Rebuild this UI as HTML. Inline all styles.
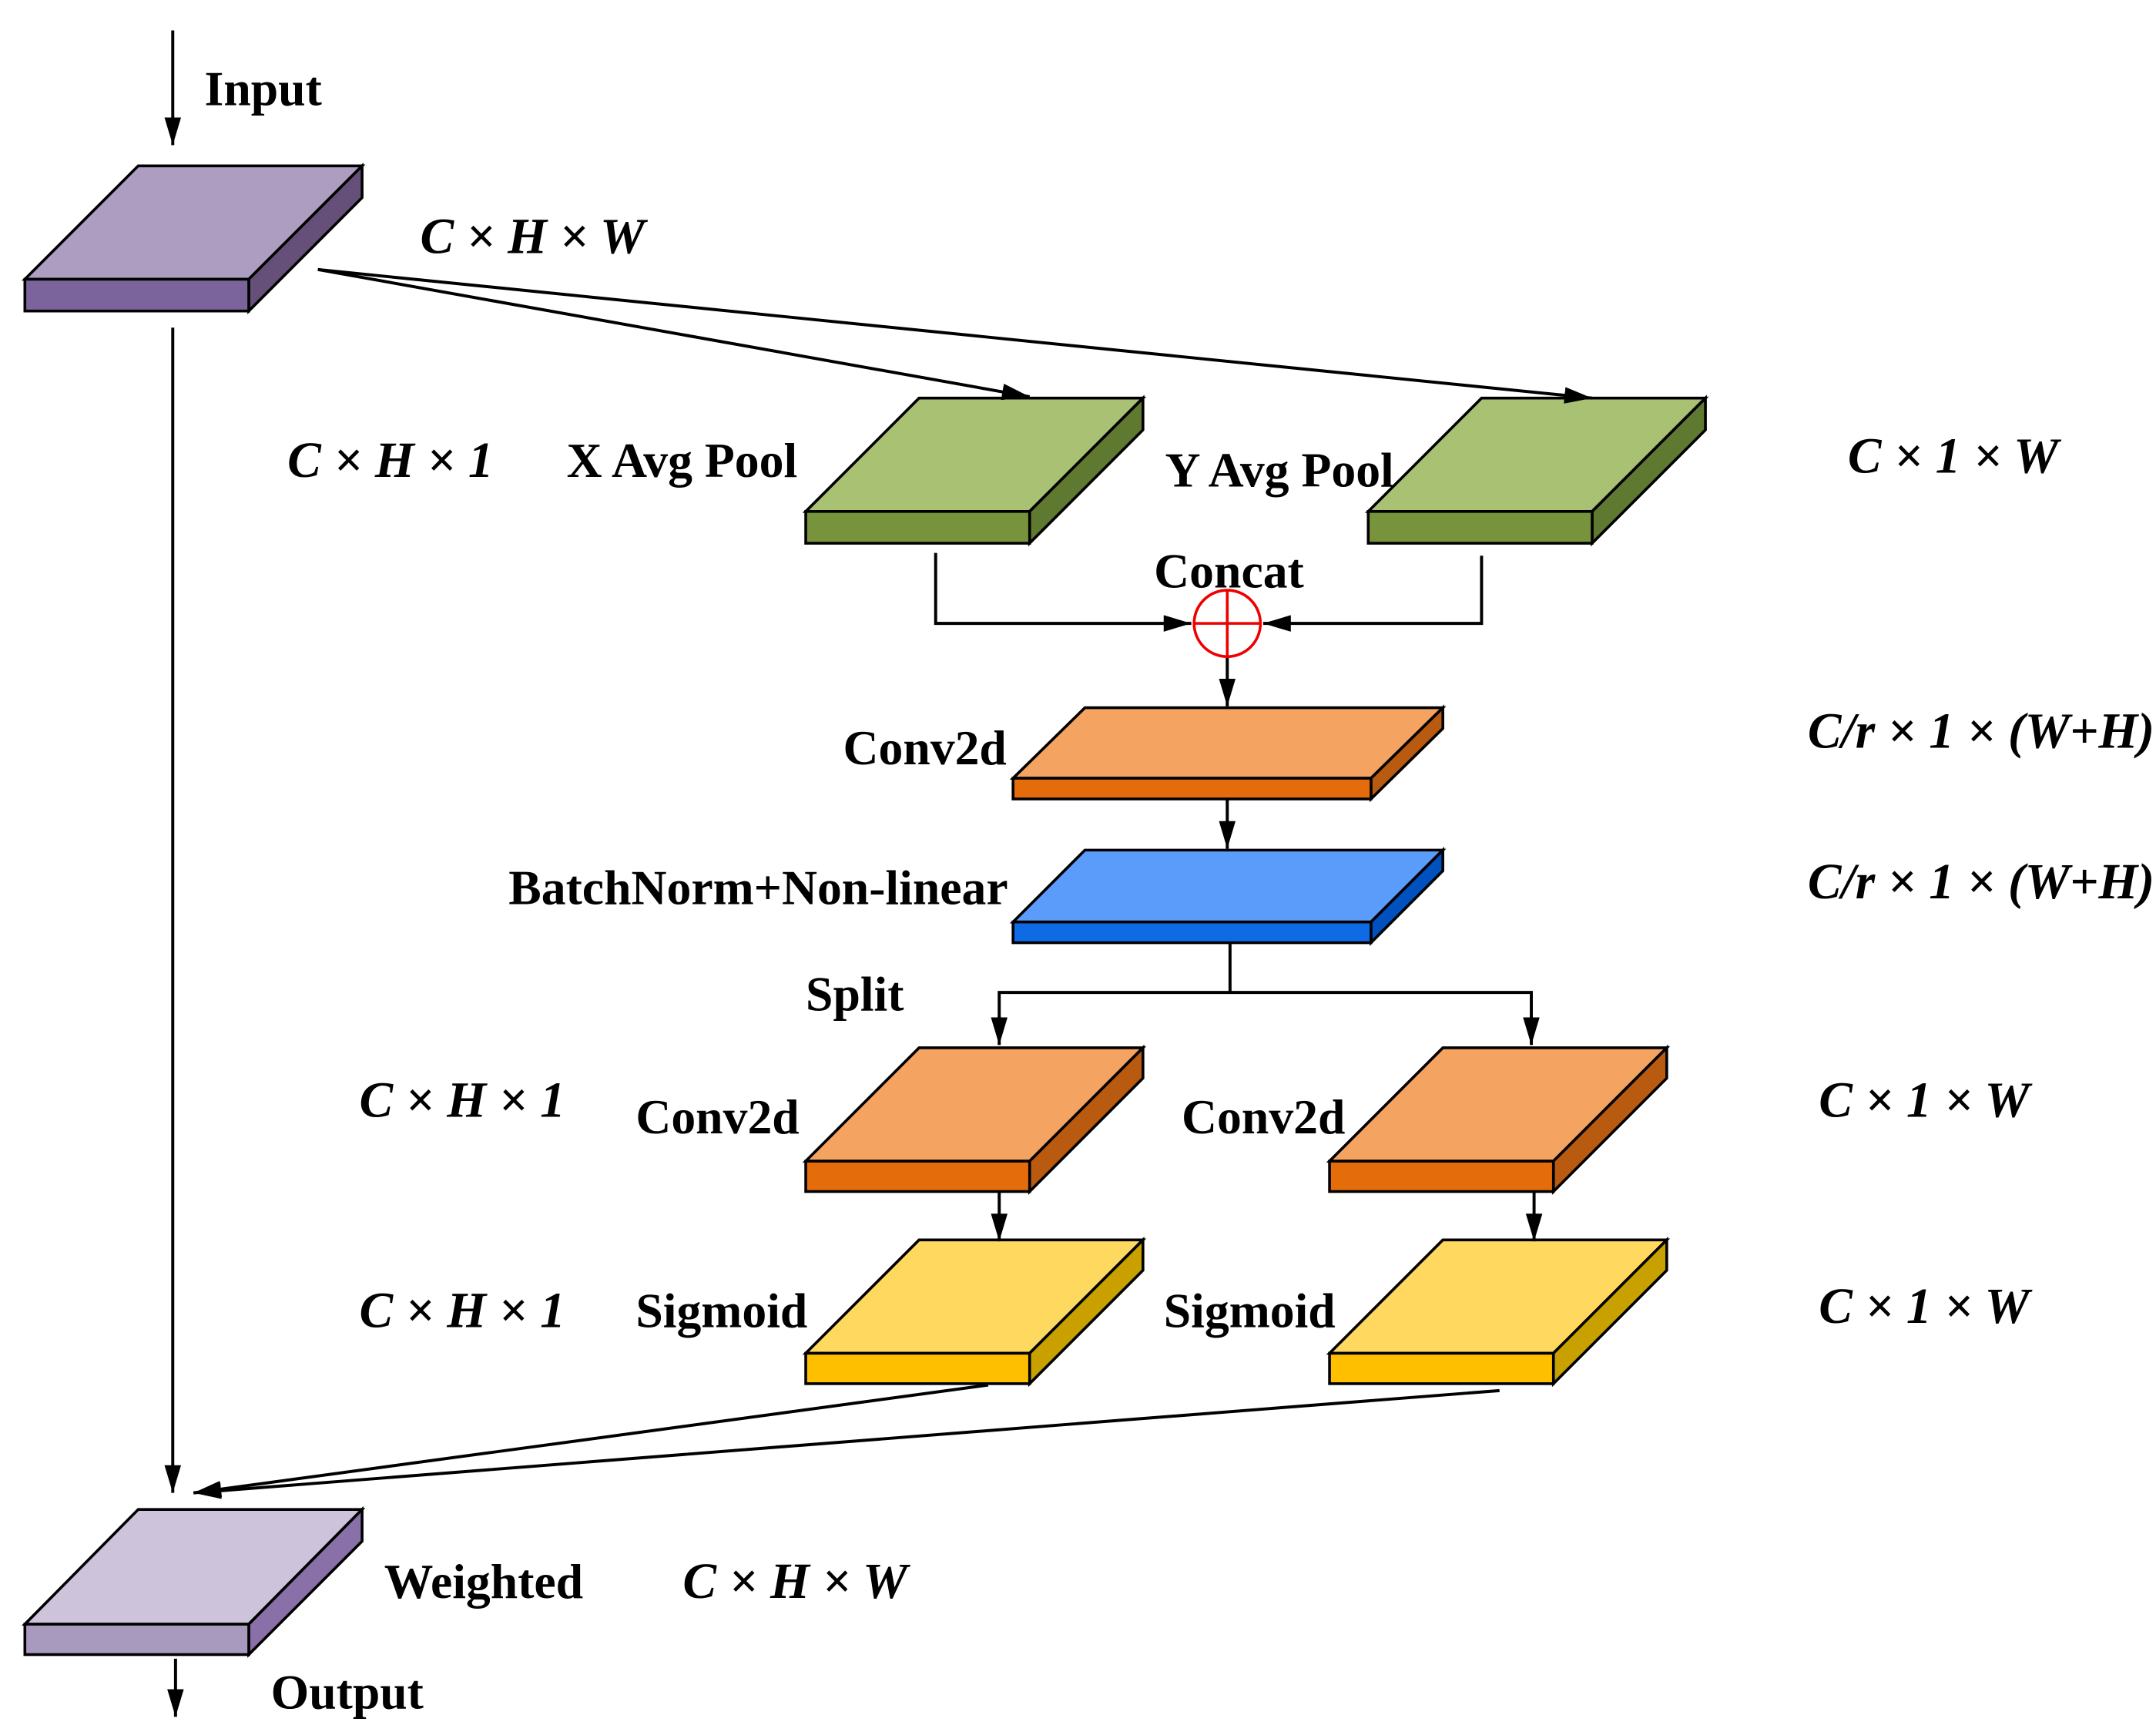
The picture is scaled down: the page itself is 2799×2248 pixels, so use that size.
<!DOCTYPE html>
<html><head><meta charset="utf-8"><style>
html,body{margin:0;padding:0;background:#fff;}
svg{display:block;}
text{font-family:"Liberation Serif",serif;font-size:35.5px;fill:#000;}
.b{font-weight:bold;}
.i{font-style:italic;font-weight:bold;font-size:36.5px;}
</style></head><body>
<svg width="2799" height="2248" viewBox="0 0 1560 1253" preserveAspectRatio="none" xmlns="http://www.w3.org/2000/svg">
<defs>
<marker id="A" markerWidth="20" markerHeight="12" refX="20" refY="6" orient="auto" markerUnits="userSpaceOnUse">
<path d="M0,0 L20,6 L0,12 Z" fill="#000"/></marker>
</defs>
<g stroke="#000" stroke-width="2" stroke-linejoin="miter">
<polygon points="18,202 100,120 262,120 180,202" fill="#ad9ec1"/>
<polygon points="180,202 262,120 262,143 180,225" fill="#645079"/>
<rect x="18" y="202" width="162" height="23" fill="#7b649b"/>
<polygon points="583,370 665,288 827,288 745,370" fill="#a9c173"/>
<polygon points="745,370 827,288 827,311 745,393" fill="#5f7a30"/>
<rect x="583" y="370" width="162" height="23" fill="#77933c"/>
<polygon points="990,370 1072,288 1234,288 1152,370" fill="#a9c173"/>
<polygon points="1152,370 1234,288 1234,311 1152,393" fill="#5f7a30"/>
<rect x="990" y="370" width="162" height="23" fill="#77933c"/>
<polygon points="733,563 785,512 1044,512 992,563" fill="#f4a460"/>
<polygon points="992,563 1044,512 1044,527 992,578" fill="#b85a10"/>
<rect x="733" y="563" width="259" height="15" fill="#e46c0a"/>
<polygon points="733,667 785,615 1044,615 992,667" fill="#5b9cfb"/>
<polygon points="992,667 1044,615 1044,630 992,682" fill="#0050c0"/>
<rect x="733" y="667" width="259" height="15" fill="#0f6ae6"/>
<polygon points="583,840 665,758 827,758 745,840" fill="#f4a460"/>
<polygon points="745,840 827,758 827,780 745,862" fill="#b85a10"/>
<rect x="583" y="840" width="162" height="22" fill="#e46c0a"/>
<polygon points="962,840 1044,758 1206,758 1124,840" fill="#f4a460"/>
<polygon points="1124,840 1206,758 1206,780 1124,862" fill="#b85a10"/>
<rect x="962" y="840" width="162" height="22" fill="#e46c0a"/>
<polygon points="583,979 665,897 827,897 745,979" fill="#fed85f"/>
<polygon points="745,979 827,897 827,919 745,1001" fill="#c8a000"/>
<rect x="583" y="979" width="162" height="22" fill="#fdbf00"/>
<polygon points="962,979 1044,897 1206,897 1124,979" fill="#fed85f"/>
<polygon points="1124,979 1206,897 1206,919 1124,1001" fill="#c8a000"/>
<rect x="962" y="979" width="162" height="22" fill="#fdbf00"/>
<polygon points="18,1175 100,1092 262,1092 180,1175" fill="#cdc3da"/>
<polygon points="180,1175 262,1092 262,1115 180,1197" fill="#8a70a8"/>
<rect x="18" y="1175" width="162" height="22" fill="#a899bf"/>
</g>
<g stroke="#000" stroke-width="2.2" fill="none">
<line x1="125" y1="22" x2="125" y2="105" marker-end="url(#A)"/>
<line x1="125" y1="237" x2="125" y2="1080" marker-end="url(#A)"/>
<line x1="230" y1="195" x2="745" y2="287" marker-end="url(#A)"/>
<line x1="230" y1="195" x2="1152" y2="288" marker-end="url(#A)"/>
<polyline points="677,400 677,451 862,451" marker-end="url(#A)"/>
<polyline points="1072,402 1072,451 914,451" marker-end="url(#A)"/>
<line x1="888" y1="476" x2="888" y2="511" marker-end="url(#A)"/>
<line x1="888" y1="578" x2="888" y2="614" marker-end="url(#A)"/>
<line x1="890" y1="682" x2="890" y2="718"/>
<polyline points="723,740 723,718 1108,718 1108,740"/>
<line x1="723" y1="735" x2="723" y2="756" marker-end="url(#A)"/>
<line x1="1108" y1="735" x2="1108" y2="756" marker-end="url(#A)"/>
<line x1="723" y1="862" x2="723" y2="898" marker-end="url(#A)"/>
<line x1="1110" y1="862" x2="1110" y2="898" marker-end="url(#A)"/>
<line x1="715" y1="1002" x2="140" y2="1080" marker-end="url(#A)"/>
<line x1="1085" y1="1006" x2="140" y2="1080" marker-end="url(#A)"/>
<line x1="127" y1="1200" x2="127" y2="1242" marker-end="url(#A)"/>
</g>
<g stroke="#e00" stroke-width="2" fill="none">
<circle cx="888" cy="451" r="24"/>
<line x1="864" y1="451" x2="912" y2="451"/>
<line x1="888" y1="427" x2="888" y2="475"/>
</g>
<text class="b" x="148" y="76">Input</text>
<text class="i" x="304" y="183">C × H × W</text>
<text class="i" x="208" y="345">C × H × 1</text>
<text class="b" x="410" y="345">X Avg Pool</text>
<text class="b" x="843" y="352">Y Avg Pool</text>
<text class="i" x="1337" y="342">C × 1 × W</text>
<text class="b" x="835" y="425">Concat</text>
<text class="b" x="610" y="553">Conv2d</text>
<text class="i" x="1308" y="541">C/r × 1 × (W+H)</text>
<text class="b" x="368" y="654">BatchNorm+Non-linear</text>
<text class="i" x="1308" y="650">C/r × 1 × (W+H)</text>
<text class="b" x="583" y="731">Split</text>
<text class="i" x="260" y="808">C × H × 1</text>
<text class="b" x="460" y="820">Conv2d</text>
<text class="b" x="855" y="820">Conv2d</text>
<text class="i" x="1316" y="808">C × 1 × W</text>
<text class="i" x="260" y="960">C × H × 1</text>
<text class="b" x="460" y="960">Sigmoid</text>
<text class="b" x="842" y="960">Sigmoid</text>
<text class="i" x="1316" y="957">C × 1 × W</text>
<text class="b" x="278" y="1156">Weighted</text>
<text class="i" x="494" y="1156">C × H × W</text>
<text class="b" x="196" y="1236">Output</text>
</svg>
</body></html>
